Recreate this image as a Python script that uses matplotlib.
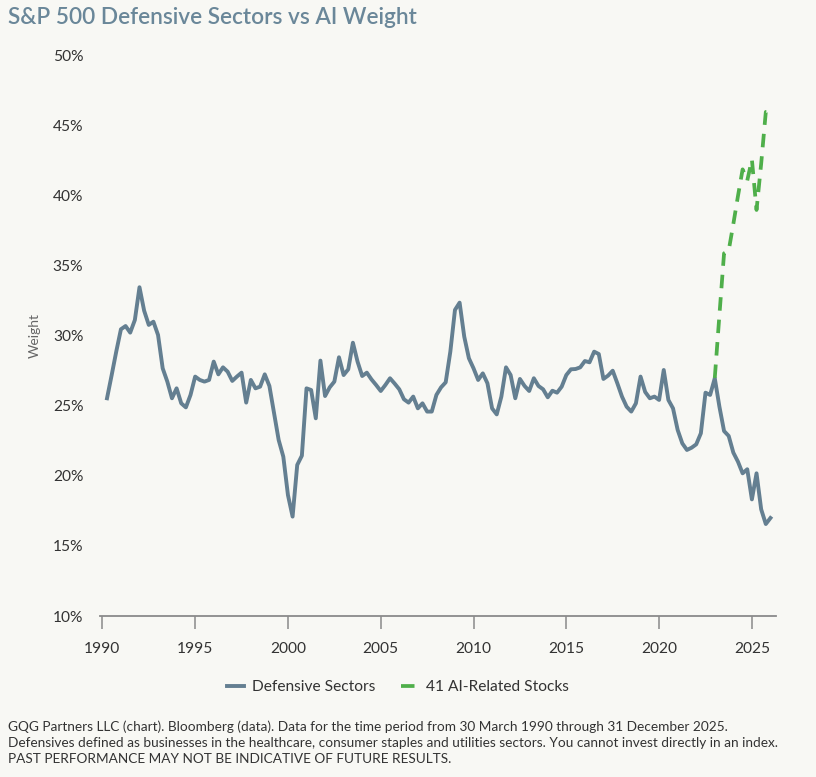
import matplotlib
matplotlib.use("Agg")
import matplotlib.pyplot as plt
from matplotlib.ticker import FuncFormatter, FixedLocator

# Quarterly dates (decimal years, quarter ends) and weights (%)
def_dates = [1990 + 0.25 * i for i in range(1, 145)]
def_values = [
    25.55, 27.2, 28.9, 30.48,            # 1990
    30.71, 30.24, 31.14, 33.48,          # 1991
    31.81, 30.79, 31.02, 30.07,          # 1992
    27.69, 26.74, 25.55, 26.26,          # 1993
    25.19, 24.90, 25.79, 27.10,          # 1994
    26.86, 26.74, 26.86, 28.17,          # 1995
    27.26, 27.76, 27.45, 26.79,          # 1996
    27.10, 27.38, 25.24, 26.86,          # 1997
    26.26, 26.38, 27.26, 26.43,          # 1998
    24.48, 22.57, 21.38, 18.64,          # 1999
    17.10, 20.79, 21.45, 26.26,          # 2000
    26.14, 24.12, 28.24, 25.71,          # 2001
    26.33, 26.74, 28.48, 27.21,          # 2002
    27.62, 29.52, 28.17, 27.14,          # 2003
    27.38, 26.90, 26.50, 26.07,          # 2004
    26.50, 26.98, 26.60, 26.19,          # 2005
    25.48, 25.24, 25.67, 24.83,          # 2006
    25.19, 24.60, 24.60, 25.79,          # 2007
    26.33, 26.69, 28.88, 31.86,          # 2008
    32.38, 29.95, 28.41, 27.69,          # 2009
    26.86, 27.33, 26.62, 24.83,          # 2010
    24.40, 25.67, 27.76, 27.21,          # 2011
    25.55, 26.93, 26.43, 26.07,          # 2012
    26.98, 26.43, 26.19, 25.62,          # 2013
    26.09, 25.95, 26.38, 27.21,          # 2014
    27.62, 27.64, 27.76, 28.21,          # 2015
    28.12, 28.88, 28.71, 26.93,          # 2016
    27.17, 27.52, 26.62, 25.67,          # 2017
    24.95, 24.60, 25.19, 27.10,          # 2018
    26.00, 25.55, 25.67, 25.43,          # 2019
    27.57, 25.43, 24.83, 23.29,          # 2020
    22.33, 21.86, 22.02, 22.26,          # 2021
    23.05, 25.95, 25.79, 26.98,          # 2022
    24.95, 23.21, 22.86, 21.67,          # 2023
    21.02, 20.19, 20.48, 18.33,          # 2024
    20.19, 17.62, 16.57, 17.00,          # 2025
]

ai_dates = [2023.0 + 0.25 * i for i in range(13)]
ai_values = [27.0, 31.5, 35.9, 36.1, 38.0, 40.0, 41.9, 41.1, 42.6, 39.0, 42.3, 46.0, 46.0]

y_ticks = [10, 15, 20, 25, 30, 35, 40, 45, 50]
x_ticks = [1990, 1995, 2000, 2005, 2010, 2015, 2020, 2025]

series_names = ["Defensive Sectors", "41 AI-Related Stocks"]
title = "S&P 500 Defensive Sectors vs AI Weight"
footer = ("GQG Partners LLC (chart). Bloomberg (data). Data for the time period from 30 March 1990 through 31 December 2025.\n"
          "Defensives defined as businesses in the healthcare, consumer staples and utilities sectors. You cannot invest directly in an index.\n"
          "PAST PERFORMANCE MAY NOT BE INDICATIVE OF FUTURE RESULTS.")

BG = "#F8F8F4"
DEF_COLOR = "#647F91"
AI_COLOR = "#4FAF4A"
TITLE_COLOR = "#6A8799"
TEXT = "#333333"

plt.rcParams['font.family'] = ['Lato', 'DejaVu Sans']

fig = plt.figure(figsize=(8.16, 7.77), dpi=100, facecolor=BG)
ax = fig.add_axes([0.1225, 0.2072, 0.8285, 0.7208], facecolor=BG)

ax.plot(def_dates, def_values, color=DEF_COLOR, lw=2.8, solid_joinstyle='round',
        label=series_names[0])
ax.plot(ai_dates, ai_values, color=AI_COLOR, lw=2.7, dashes=(3.6, 2.4),
        label=series_names[1])

ax.set_xlim(1989.87, 2026.3)
ax.set_ylim(10, 50)
ax.yaxis.set_major_locator(FixedLocator(y_ticks))
ax.yaxis.set_major_formatter(FuncFormatter(lambda v, p: f"{int(v)}%"))
ax.xaxis.set_major_locator(FixedLocator(x_ticks))

for s in ["top", "right", "left"]:
    ax.spines[s].set_visible(False)
ax.spines["bottom"].set_color("#8A8A8A")
ax.spines["bottom"].set_linewidth(1.3)

ax.tick_params(axis='y', length=0, pad=12, labelsize=11.2, labelcolor=TEXT)
ax.tick_params(axis='x', length=9, width=1.1, color="#8A8A8A", pad=10,
               labelsize=11.2, labelcolor=TEXT)

ax.set_ylabel("Weight", fontsize=10, color="#666666", labelpad=9)

fig.text(8 / 816, 1 - 18 / 777, title, fontsize=16.3, color=TITLE_COLOR,
         fontweight='semibold', va='center', ha='left')

leg = fig.legend(loc='center', bbox_to_anchor=(398 / 816, 1 - 687 / 777), ncol=2,
                 frameon=False, fontsize=11.2, handlelength=1.1, columnspacing=1.6,
                 handletextpad=0.55)
for t in leg.get_texts():
    t.set_color(TEXT)

fig.text(8 / 816, 1 - 720 / 777, footer, fontsize=9.8, color=TEXT, va='top',
         ha='left', linespacing=1.4)

fig.savefig("out.png", dpi=100, facecolor=BG)
